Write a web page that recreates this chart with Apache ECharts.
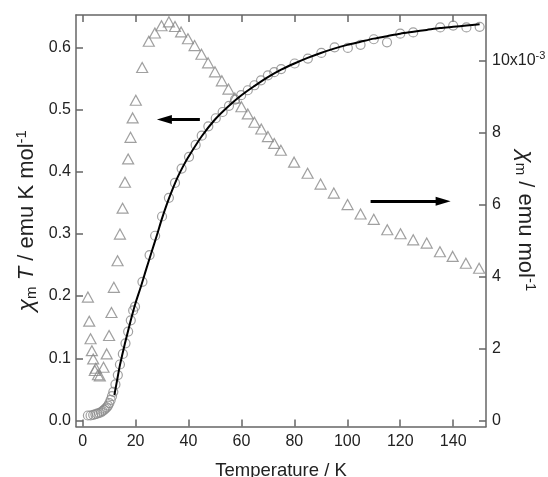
<!DOCTYPE html>
<html>
<head>
<meta charset="utf-8">
<script src="https://cdn.jsdelivr.net/npm/echarts@6/dist/echarts.min.js"></script>
<style>
  html, body { margin: 0; padding: 0; background: #fff; }
  #chart { width: 548px; height: 477px; }
</style>
</head>
<body>
<div id="chart"></div>
<script>
// chi_m*T (circles, left axis)
const circleT = [2.0, 3.0, 4.0, 4.8, 5.5, 6.2, 6.9, 7.5, 8.1, 8.6, 9.1, 9.6, 10.1, 10.6, 11.1, 11.6,
  12.4, 13.3, 14.1, 15.2, 16.2, 17.2, 18.2, 19.1, 19.8, 22.6, 25.3, 27.4, 30.0, 32.6, 34.9, 37.4,
  40.2, 42.7, 45.0, 47.5, 50.3, 52.9, 55.3, 57.6, 59.9, 62.4, 64.9, 67.4, 70.0, 72.4, 75.0, 80.1,
  85.1, 90.2, 95.2, 100.2, 105.0, 110.0, 115.0, 120.0, 124.9, 135.1, 140.0, 145.0, 150.0];
const circleChiT = [0.008, 0.008, 0.009, 0.010, 0.011, 0.012, 0.013, 0.015, 0.017, 0.019, 0.021, 0.024, 0.028, 0.033, 0.039, 0.046,
  0.058, 0.073, 0.090, 0.107, 0.124, 0.143, 0.161, 0.177, 0.183, 0.223, 0.266, 0.297, 0.328, 0.358, 0.382, 0.405,
  0.424, 0.443, 0.458, 0.473, 0.486, 0.496, 0.506, 0.516, 0.523, 0.531, 0.539, 0.547, 0.555, 0.560, 0.565, 0.574,
  0.582, 0.591, 0.600, 0.599, 0.604, 0.613, 0.608, 0.622, 0.624, 0.632, 0.635, 0.632, 0.633];

// chi_m (triangles, right axis, x10^-3)
const triT = [2.0, 2.5, 3.0, 3.5, 4.0, 4.6, 5.0, 5.8, 6.5, 7.9, 9.1, 10.0, 10.9, 11.8, 13.2, 14.1, 15.1, 16.0,
  17.2, 18.1, 18.9, 20.1, 22.5, 25.0, 27.3, 29.8, 32.6, 34.9, 37.2, 39.8, 42.3, 44.9, 47.4, 50.0, 52.6,
  55.1, 57.5, 60.0, 62.4, 64.9, 67.5, 70.0, 72.4, 74.9, 79.9, 85.0, 89.9, 94.9, 100.1, 105.0, 110.0,
  115.1, 120.1, 124.9, 130.0, 135.0, 139.8, 144.8, 149.8];
const triChi = [3.43, 2.76, 2.27, 1.94, 1.71, 1.39, 1.45, 1.27, 1.24, 1.48, 1.85, 2.36, 3.00, 3.70, 4.44, 5.18, 5.90, 6.62,
  7.27, 7.87, 8.41, 8.90, 9.81, 10.54, 10.77, 10.97, 11.08, 10.95, 10.80, 10.61, 10.42, 10.18, 9.94, 9.69, 9.44,
  9.21, 8.96, 8.72, 8.52, 8.29, 8.10, 7.89, 7.70, 7.51, 7.18, 6.87, 6.57, 6.32, 6.00, 5.74, 5.59,
  5.30, 5.19, 5.02, 4.93, 4.69, 4.56, 4.37, 4.23];

// fitted curve for chi_m*T
const fitT = [12, 13, 14, 15, 16, 17, 18, 19, 20, 22, 24, 26, 28, 30, 32, 34, 36, 38, 40, 45, 50, 55, 60,
  65, 70, 75, 80, 85, 90, 95, 100, 105, 110, 115, 120, 125, 130, 135, 140, 145, 150];
const fitChiT = [0.041, 0.064, 0.087, 0.106, 0.124, 0.141, 0.158, 0.174, 0.189, 0.215, 0.243, 0.270, 0.297, 0.325,
  0.350, 0.372, 0.392, 0.409, 0.424, 0.457, 0.484, 0.505, 0.523, 0.538, 0.552, 0.564, 0.574, 0.583, 0.591,
  0.598, 0.604, 0.609, 0.614, 0.618, 0.622, 0.625, 0.628, 0.631, 0.633, 0.635, 0.637];

const xTicks = [0, 20, 40, 60, 80, 100, 120, 140];
const leftTicks = [0, 0.1, 0.2, 0.3, 0.4, 0.5, 0.6];
const rightTicks = [0, 2, 4, 6, 8, 10];

// arrows: [T start, T end (head centre), value]
const leftArrow = [44.3, 30.9, 0.484];
const rightArrow = [108.8, 136.2, 6.09];

const zip = (a, b) => a.map((v, i) => [v, b[i]]);

const FONT = 'Liberation Sans, Arial, sans-serif';
const AXIS_COLOR = '#666';
const MARK_COLOR = '#888';
const TEXT = '#222';

const chart = echarts.init(document.getElementById('chart'), null, { renderer: 'canvas' });

const tick = vals => ({ show: true, inside: true, length: 7, customValues: vals, lineStyle: { color: AXIS_COLOR, width: 1.5 } });
const line = { show: true, onZero: false, lineStyle: { color: AXIS_COLOR, width: 1.5 } };

const nameRich = {
  c: { fontFamily: FONT, fontSize: 23, fontStyle: 'italic', color: TEXT },
  sub: { fontFamily: FONT, fontSize: 15, color: TEXT, verticalAlign: 'bottom', padding: [10, 0, 0, 0] },
  t: { fontFamily: FONT, fontSize: 22, fontStyle: 'italic', color: TEXT },
  n: { fontFamily: FONT, fontSize: 22, color: TEXT },
  sup: { fontFamily: FONT, fontSize: 15, color: TEXT, verticalAlign: 'top', padding: [0, 0, 10, 0] }
};

const mkArrow = a => ({
  silent: true, symbol: ['none', 'triangle'], symbolSize: [9, 15],
  lineStyle: { color: '#000', width: 3, type: 'solid' },
  label: { show: false },
  data: [[{ coord: [a[0], a[2]] }, { coord: [a[1], a[2]] }]]
});

const option = {
  animation: false,
  grid: { left: 76, right: 62, top: 15, bottom: 50.5, containLabel: false, outerBoundsMode: 'none' },
  xAxis: [
    {
      type: 'value', min: -2.5, max: 152.4, position: 'bottom',
      axisLine: line, axisTick: tick(xTicks),
      axisLabel: { customValues: xTicks, color: TEXT, fontFamily: FONT, fontSize: 16, margin: 7 },
      splitLine: { show: false },
      name: 'Temperature / K', nameLocation: 'middle', nameGap: 35, nameMoveOverlap: false,
      nameTextStyle: { color: TEXT, fontFamily: FONT, fontSize: 18.5 }
    },
    {
      type: 'value', min: -2.5, max: 152.4, position: 'top',
      axisLine: line, axisTick: tick(xTicks),
      axisLabel: { show: false },
      splitLine: { show: false }
    }
  ],
  yAxis: [
    {
      type: 'value', min: -0.0097, max: 0.652, position: 'left',
      axisLine: line, axisTick: tick(leftTicks),
      axisLabel: { customValues: leftTicks, color: TEXT, fontFamily: FONT, fontSize: 16, margin: 5,
        formatter: v => v.toFixed(1) },
      splitLine: { show: false },
      name: '{c|χ}{sub|m}{t| T}{n| / emu K mol}{sup|-1}',
      nameLocation: 'middle', nameRotate: 90, nameGap: 37, nameMoveOverlap: false,
      nameTextStyle: { color: TEXT, fontFamily: FONT, fontSize: 22, rich: nameRich }
    },
    {
      type: 'value', min: -0.168, max: 11.27, position: 'right',
      axisLine: line, axisTick: tick(rightTicks),
      axisLabel: {
        customValues: rightTicks, color: TEXT, fontFamily: FONT, fontSize: 16, margin: 6,
        formatter: v => (v === 10 ? '10x10{sup|-3}' : String(v)),
        rich: { sup: { fontFamily: FONT, fontSize: 11, color: TEXT, verticalAlign: 'top', padding: [0, 0, 9, 0] } }
      },
      splitLine: { show: false },
      name: '{c|χ}{sub|m}{n| / emu mol}{sup|-1}',
      nameLocation: 'middle', nameRotate: -90, nameGap: 27, nameMoveOverlap: false,
      nameTextStyle: { color: TEXT, fontFamily: FONT, fontSize: 22, rich: nameRich }
    }
  ],
  series: [
    {
      name: 'chiT', type: 'scatter', xAxisIndex: 0, yAxisIndex: 0,
      data: zip(circleT, circleChiT),
      symbol: 'circle', symbolSize: 9,
      itemStyle: { color: 'rgba(0,0,0,0)', borderColor: MARK_COLOR, borderWidth: 1.2 },
      markLine: mkArrow(leftArrow),
      z: 3
    },
    {
      name: 'chi', type: 'scatter', xAxisIndex: 0, yAxisIndex: 1,
      data: zip(triT, triChi),
      symbol: 'triangle', symbolSize: [11, 10],
      itemStyle: { color: 'rgba(0,0,0,0)', borderColor: MARK_COLOR, borderWidth: 1.2 },
      markLine: mkArrow(rightArrow),
      z: 3
    },
    {
      name: 'fit', type: 'line', xAxisIndex: 0, yAxisIndex: 0,
      data: zip(fitT, fitChiT),
      showSymbol: false, symbol: 'none', smooth: 0.3,
      lineStyle: { color: '#000', width: 2 },
      z: 4
    }
  ]
};

chart.setOption(option);
</script>
</body>
</html>
